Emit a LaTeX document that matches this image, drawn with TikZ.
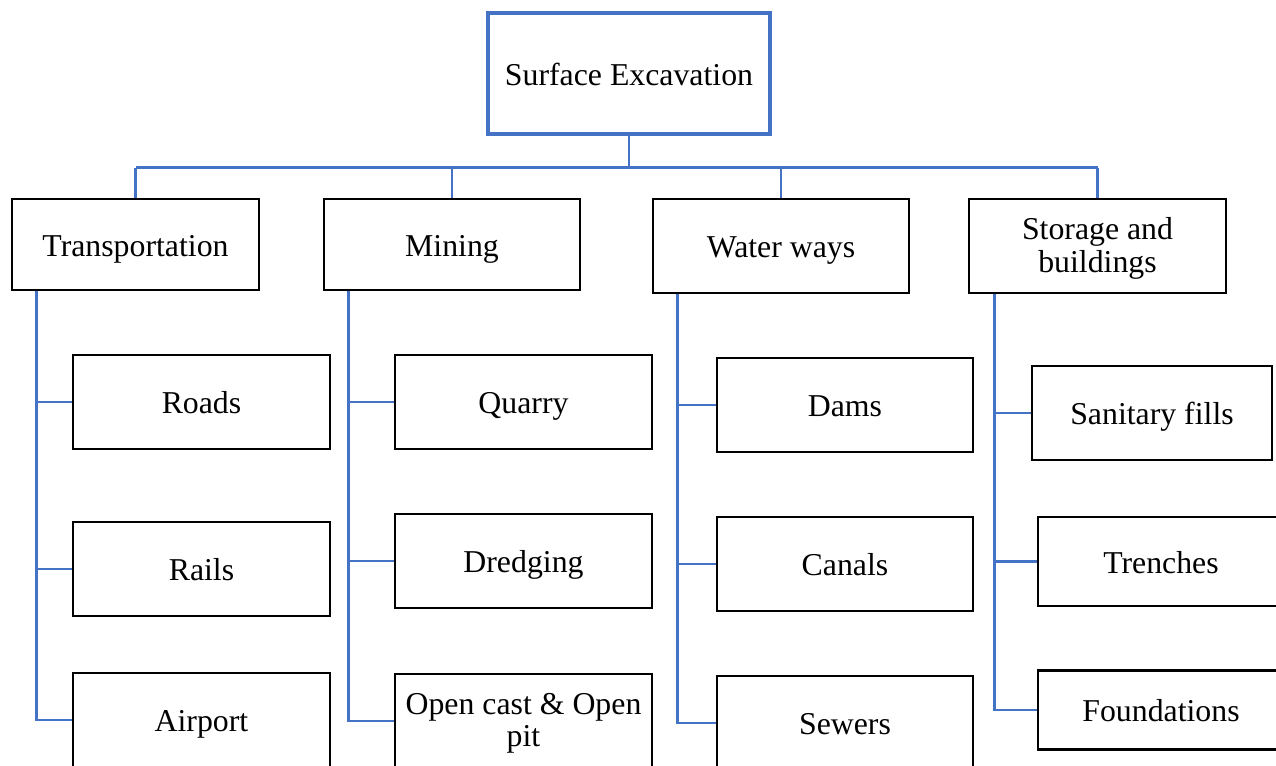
\documentclass[tikz,border=0pt]{standalone}
\usepackage{fontspec}
\setmainfont{Liberation Serif}
\definecolor{linkblue}{HTML}{4472C4}
\begin{document}
\begin{tikzpicture}[x=0.5pt,y=-0.5pt,
  every node/.style={font=\fontsize{15.9}{16.5}\selectfont, align=center, inner sep=0pt,
    text height=15pt, text depth=3.5pt},
  twoline/.style={text height={}, text depth={}},
  box/.style={draw=black, line width=1.4pt, fill=white, minimum height=47pt},
  rootbox/.style={draw=linkblue, line width=1.6pt, minimum width=141pt, minimum height=60.5pt},
  link/.style={draw=linkblue, line width=1.4pt}]
\useasboundingbox (0,0) rectangle (1276,766);
\clip (0,0) rectangle (1276,766);

% root
\node[rootbox] (root) at (629,73.5) {Surface Excavation};

% categories
\node[box, minimum width=123.5pt, minimum height=45.5pt] (trans) at (135.5,244.5) {Transportation};
\node[box, minimum width=128pt, minimum height=45.5pt] (mining) at (452,244.5) {Mining};
\node[box, minimum width=128pt] (water) at (781,246) {Water ways};
\node[box, twoline, minimum width=128.5pt] (store) at (1097.5,246)
  {\rule{0pt}{13.4pt}Storage and\\buildings\rule[-3.5pt]{0pt}{3.5pt}};

% transportation items
\node[box, minimum width=128.5pt] (roads) at (201.5,402) {Roads};
\node[box, minimum width=128.5pt] (rails) at (201.5,569) {Rails};
\node[box, minimum width=128.5pt] (airport) at (201.5,720) {Airport};

% mining items
\node[box, minimum width=128.5pt] (quarry) at (523.5,402) {Quarry};
\node[box, minimum width=128.5pt] (dredge) at (523.5,561) {Dredging};
\node[box, twoline, minimum width=128.5pt,
  font=\fontsize{15.9}{16}\selectfont] (opencast) at (523.5,721)
  {\rule{0pt}{13.4pt}Open cast \& Open\\pit\rule[-3.5pt]{0pt}{3.5pt}};

% water ways items
\node[box, minimum width=128pt] (dams) at (845,405) {Dams};
\node[box, minimum width=128pt] (canals) at (845,564) {Canals};
\node[box, minimum width=128pt] (sewers) at (845,723) {Sewers};

% storage items
\node[box, minimum width=120pt] (sanitary) at (1152,413) {Sanitary fills};
\node[box, minimum width=123pt, minimum height=44.5pt] (trench) at (1161,561.5) {Trenches};
\node[box, minimum width=123pt, minimum height=39.5pt] (found) at (1161,710) {Foundations};

% root to categories
\draw[link] (root.south) -- ++(0,32) coordinate (bus);
\draw[link] (trans.north |- bus) -- (store.north |- bus);
\foreach \c in {trans,mining,water,store}
  \draw[link] (\c.north |- bus) -- (\c.north);

% category spines
\coordinate (ts) at ([xshift=13pt]trans.south west);
\coordinate (ms) at ([xshift=13pt]mining.south west);
\coordinate (ws) at ([xshift=13pt]water.south west);
\coordinate (ss) at ([xshift=13.5pt]store.south west);

\draw[link] (ts) -- (ts |- airport.west) -- (airport.west);
\draw[link] (ts |- roads.west) -- (roads.west);
\draw[link] (ts |- rails.west) -- (rails.west);

\draw[link] (ms) -- (ms |- opencast.west) -- (opencast.west);
\draw[link] (ms |- quarry.west) -- (quarry.west);
\draw[link] (ms |- dredge.west) -- (dredge.west);

\draw[link] (ws) -- (ws |- sewers.west) -- (sewers.west);
\draw[link] (ws |- dams.west) -- (dams.west);
\draw[link] (ws |- canals.west) -- (canals.west);

\draw[link] (ss) -- (ss |- found.west) -- (found.west);
\draw[link] (ss |- sanitary.west) -- (sanitary.west);
\draw[link] (ss |- trench.west) -- (trench.west);
\end{tikzpicture}
\end{document}
